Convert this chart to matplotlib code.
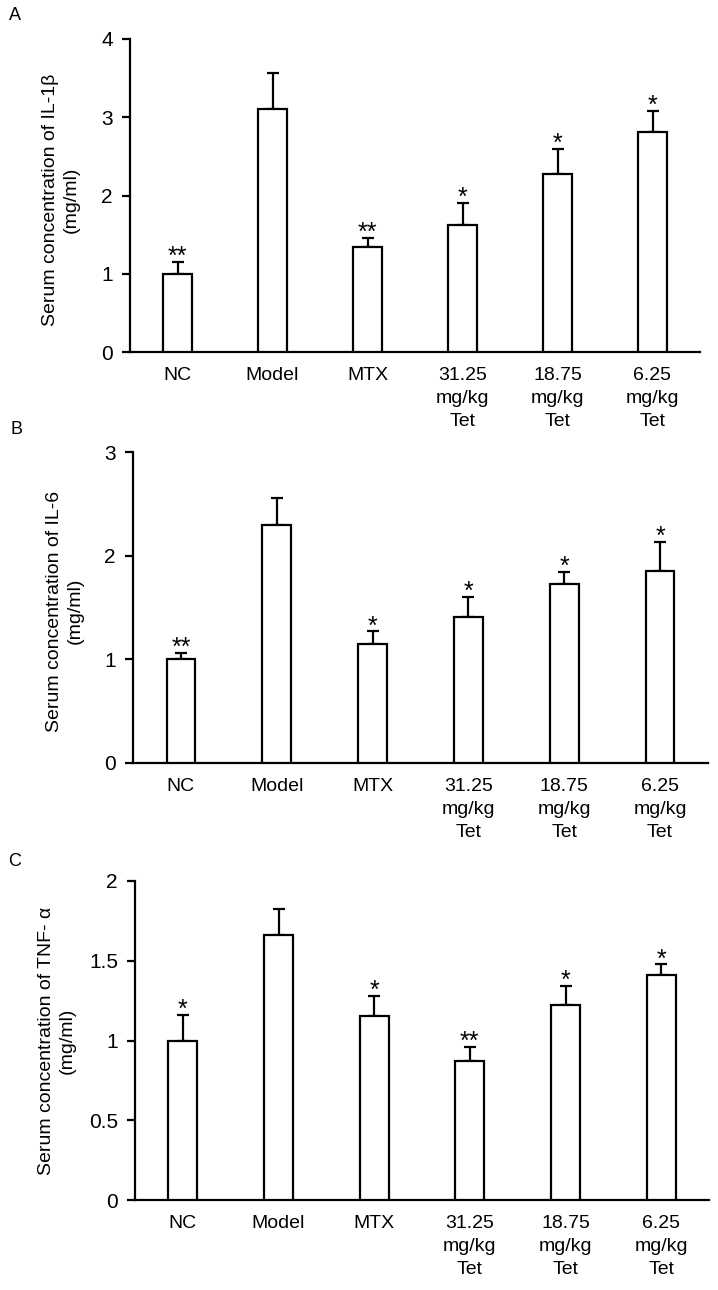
import matplotlib.pyplot as plt
import numpy as np

plt.rcParams["font.family"] = ["Liberation Sans", "DejaVu Sans"]

groups = ["NC", "Model", "MTX", "31.25\nmg/kg\nTet", "18.75\nmg/kg\nTet", "6.25\nmg/kg\nTet"]

# A: IL-1beta
il1b_mean = [1.00, 3.10, 1.34, 1.62, 2.28, 2.81]
il1b_err = [0.15, 0.47, 0.12, 0.29, 0.32, 0.27]
il1b_sig = ["**", "", "**", "*", "*", "*"]

# B: IL-6
il6_mean = [1.00, 2.30, 1.15, 1.41, 1.73, 1.85]
il6_err = [0.06, 0.26, 0.12, 0.19, 0.11, 0.28]
il6_sig = ["**", "", "*", "*", "*", "*"]

# C: TNF-alpha
tnf_mean = [1.00, 1.66, 1.155, 0.87, 1.225, 1.41]
tnf_err = [0.16, 0.165, 0.125, 0.09, 0.115, 0.067]
tnf_sig = ["*", "", "*", "**", "*", "*"]

W, H = 718, 1290
fig = plt.figure(figsize=(W / 100, H / 100), dpi=100)


def px_axes(left, right, top, bottom):
    # pixel box -> figure fraction
    return [left / W, 1 - bottom / H, (right - left) / W, (bottom - top) / H]


panels = [
    # letter, axes box, mean, err, sig, ymax, yticks, ylabel, label x, label y, letter pos
    ("A", px_axes(130, 700, 39, 352), il1b_mean, il1b_err, il1b_sig, 4, [0, 1, 2, 3, 4],
     "Serum concentration of IL-1β\n(mg/ml)", 61, 200, (15, 15)),
    ("B", px_axes(133, 708, 452, 763), il6_mean, il6_err, il6_sig, 3, [0, 1, 2, 3],
     "Serum concentration of IL-6\n(mg/ml)", 65, 611, (16, 429)),
    ("C", px_axes(135, 709, 881, 1200), tnf_mean, tnf_err, tnf_sig, 2, [0, 0.5, 1, 1.5, 2],
     "Serum concentration of TNF- α\n(mg/ml)", 57, 1041, (15, 861)),
]

x = np.arange(len(groups))
fs = 14

for letter, box, mean, err, sig, ymax, yticks, ylabel, lx, ly, lpos in panels:
    ax = fig.add_axes(box)
    ax.bar(x, mean, width=0.3, color="white", edgecolor="black", linewidth=1.6, zorder=3)
    ax.errorbar(x, mean, yerr=[np.zeros(len(x)), err], fmt="none", ecolor="black",
                elinewidth=1.6, capsize=4.5, capthick=1.6, zorder=2)
    for xi, m, e, s in zip(x, mean, err, sig):
        if s:
            ax.annotate(s, (xi, m + e), xytext=(0, -1.5), textcoords="offset points",
                        ha="center", va="baseline", fontsize=18)

    ax.set_xlim(-0.5, 5.5)
    ax.set_ylim(0, ymax)
    ax.set_yticks(yticks)
    ax.set_yticklabels([("%g" % t) for t in yticks])
    ax.set_xticks(x)
    ax.set_xticklabels(groups, linespacing=1.45)

    ax.spines["right"].set_visible(False)
    ax.spines["top"].set_visible(False)
    ax.spines["left"].set_linewidth(1.6)
    ax.spines["bottom"].set_linewidth(1.6)
    ax.tick_params(axis="x", length=0, pad=11, labelsize=fs)
    ax.tick_params(axis="y", length=5.8, width=1.6, pad=6.5, labelsize=fs + 1)

    fig.text(lx / W, 1 - ly / H, ylabel, rotation=90, ha="center", va="center",
             multialignment="center", fontsize=fs, linespacing=1.3)
    fig.text(lpos[0] / W, 1 - lpos[1] / H, letter, ha="center", va="center", fontsize=13)

fig.savefig("out.png", dpi=100)
